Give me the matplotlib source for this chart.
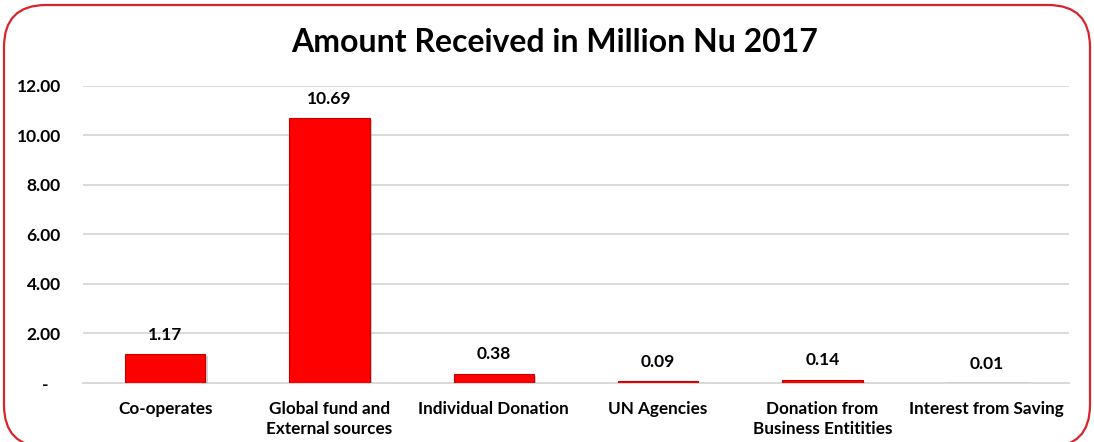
import matplotlib.pyplot as plt
import matplotlib.patheffects as pe
from matplotlib.patches import FancyBboxPatch

plt.rcParams["font.family"] = ["Lato", "DejaVu Sans"]
plt.rcParams["font.weight"] = "bold"

categories = ["Co-operates", "Global fund and\nExternal sources", "Individual Donation",
              "UN Agencies", "Donation from\nBusiness Entitities", "Interest from Saving"]
amounts = [1.17, 10.69, 0.38, 0.09, 0.14, 0.01]
y_ticks = [0, 2, 4, 6, 8, 10, 12]
y_tick_labels = ["-   ", "2.00", "4.00", "6.00", "8.00", "10.00", "12.00"]

RED = "#ff0000"
BORDER = "#d6252b"
GRID = "#d9d9d9"

fig = plt.figure(figsize=(10.94, 4.42), dpi=100)
fig.patch.set_facecolor("white")

# rounded frame, drawn in pixel units on a full-figure axes
bg = fig.add_axes([0, 0, 1, 1], zorder=0)
bg.set_xlim(0, 1094)
bg.set_ylim(442, 0)
bg.axis("off")
bg.add_patch(FancyBboxPatch((4, 5), 1086, 442, boxstyle="round,pad=0,rounding_size=42",
                            facecolor="white", edgecolor=BORDER, linewidth=1.6))

ax = fig.add_axes([83 / 1094, 1 - 383 / 442, (1069 - 83) / 1094, (383 - 85.5) / 442], zorder=1)
ax.patch.set_alpha(0)
x = range(len(categories))
bars = ax.bar(x, amounts, width=0.49, color=RED, edgecolor="#c40000", linewidth=0.8, zorder=3)
for b in bars:
    b.set_path_effects([pe.SimplePatchShadow(offset=(1.5, -1.5), shadow_rgbFace="#808080", alpha=0.35),
                        pe.Normal()])

for xi, v in zip(x, amounts):
    ax.annotate(f"{v:.2f}", (xi, v), xytext=(0, 8), textcoords="offset points",
                ha="center", va="bottom", fontsize=12.5, fontweight="bold", color="black")

ax.set_xlim(-0.5, len(categories) - 0.5)
ax.set_ylim(0, 12)
ax.set_yticks(y_ticks)
ax.set_yticklabels(y_tick_labels, fontsize=12.5, fontweight="bold")
ax.set_xticks(list(x))
ax.set_xticklabels(categories, fontsize=12.3, fontweight="bold", linespacing=1.3, va="top")
ax.tick_params(axis="both", length=0)
ax.tick_params(axis="y", pad=16)
ax.tick_params(axis="x", pad=13)
ax.yaxis.grid(True, color=GRID, linewidth=1.4, zorder=0)
ax.set_axisbelow(True)
for s in ["top", "right", "left"]:
    ax.spines[s].set_visible(False)
ax.spines["bottom"].set_color(GRID)
ax.spines["bottom"].set_linewidth(1.4)

fig.text(555 / 1094, 1 - 43 / 442, "Amount Received in Million Nu 2017", ha="center", va="center",
         fontsize=23, fontweight="bold", color="black")

fig.savefig("out.png", dpi=100, facecolor="white")
